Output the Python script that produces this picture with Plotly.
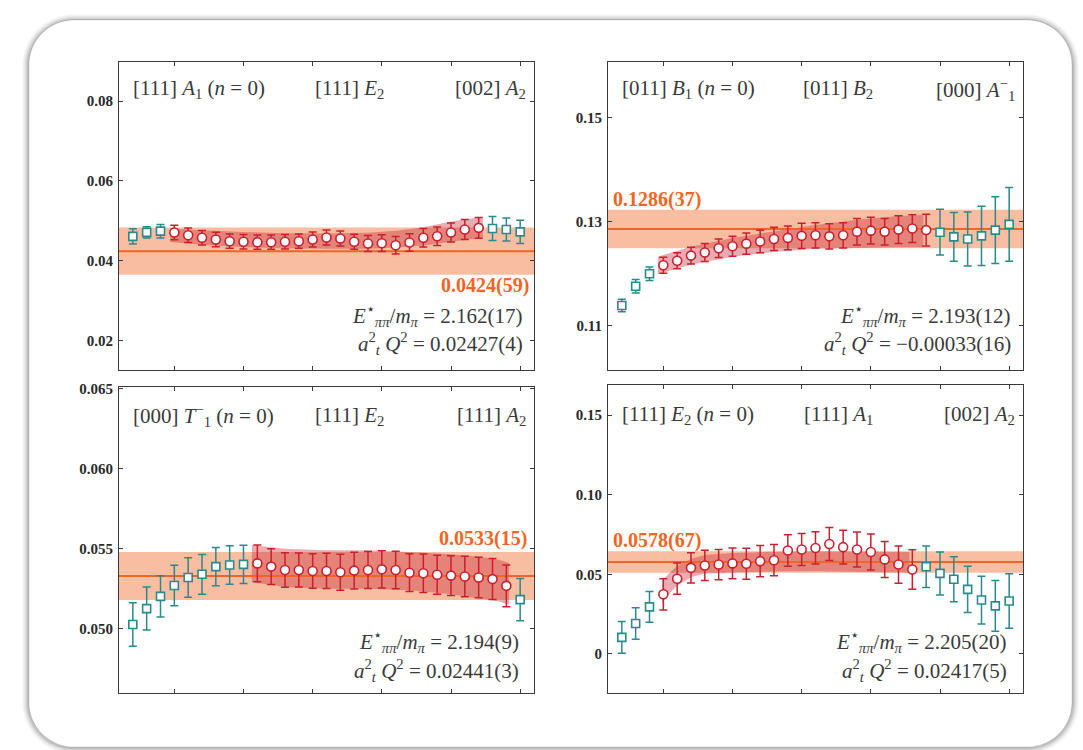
import plotly.graph_objects as go

W, H = 1083, 750

# time slices shared by all four panels
t_slices = list(range(2, 31))

# ---- panel A: [111] A1 (n=0) ----
pa_vals = [0.0461, 0.0471, 0.0474,
           0.04706, 0.04638, 0.04574, 0.04531, 0.04489, 0.04474, 0.04464, 0.04464,
           0.04474, 0.04489, 0.04531, 0.04581, 0.04556, 0.04474, 0.04431, 0.04439,
           0.04389, 0.04456, 0.04574, 0.04614, 0.04706, 0.04781, 0.04823,
           0.04806, 0.04781, 0.04723]
pa_errs = [0.0019, 0.0014, 0.0017,
           0.0018, 0.0018, 0.0018, 0.0018, 0.0018, 0.0018, 0.0018, 0.0018,
           0.0018, 0.0018, 0.0019, 0.0019, 0.0019, 0.0019, 0.0020, 0.0021,
           0.0022, 0.0022, 0.0023, 0.0023, 0.0024, 0.0025, 0.0026,
           0.0030, 0.0029, 0.0029]
pa_fit = (5, 27)
pa_band_t = [4.7, 7, 10, 13, 16, 19, 21, 23, 25, 27.3]
pa_band_mid = [0.0464, 0.0458, 0.0453, 0.0450, 0.0449, 0.0450, 0.0454, 0.0461, 0.0473, 0.0484]
pa_band_hw = [0.0017, 0.0018, 0.0019, 0.0019, 0.0019, 0.0020, 0.0021, 0.0023, 0.0025, 0.0026]
pa_const = (0.0424, 0.0059)
pa_yticks = [0.02, 0.04, 0.06, 0.08]
pa_yticklabels = ["0.02", "0.04", "0.06", "0.08"]
pa_labels = ["[111] <i>A</i><sub>1</sub> (<i>n</i> = 0)", "[111] <i>E</i><sub>2</sub>",
             "[002] <i>A</i><sub>2</sub>"]
pa_const_text = "0.0424(59)"
pa_energy = "2.162(17)"
pa_q2 = "0.02427(4)"

# ---- panel B: [011] B1 (n=0) ----
pb_vals = [0.1139, 0.1176, 0.1200,
           0.12165, 0.1225, 0.1235, 0.1241, 0.1249, 0.1253, 0.1258, 0.1262, 0.1267, 0.1269,
           0.1273, 0.1274, 0.1272, 0.1274, 0.1281, 0.1283, 0.1281, 0.1285, 0.1287, 0.1284,
           0.1280, 0.1271, 0.1267, 0.1273, 0.1284, 0.1295]
pb_errs = [0.0012, 0.0013, 0.0013,
           0.00153, 0.00153, 0.00159, 0.00172, 0.00178, 0.00191, 0.00204, 0.00216, 0.00223,
           0.00229, 0.00242, 0.00242, 0.00242, 0.00242, 0.00255, 0.00255, 0.00255, 0.00267,
           0.00267, 0.00306,
           0.0044, 0.0047, 0.0052, 0.0057, 0.0064, 0.0071]
pb_fit = (5, 24)
pb_band_t = [4.6, 7, 10, 13, 16, 19, 22, 23.8]
pb_band_mid = [0.1216, 0.1235, 0.1251, 0.1262, 0.1271, 0.1277, 0.1281, 0.1282]
pb_band_hw = [0.0017, 0.0017, 0.0018, 0.0020, 0.0023, 0.0027, 0.0030, 0.0031]
pb_const = (0.1286, 0.0037)
pb_yticks = [0.11, 0.13, 0.15]
pb_yticklabels = ["0.11", "0.13", "0.15"]
pb_labels = ["[011] <i>B</i><sub>1</sub> (<i>n</i> = 0)", "[011] <i>B</i><sub>2</sub>",
             "[000] <i>A</i><sup>−</sup><sub>1</sub>"]
pb_const_text = "0.1286(37)"
pb_energy = "2.193(12)"
pb_q2 = "−0.00033(16)"

# ---- panel C: [000] T1- (n=0) ----
pc_vals = [0.05027, 0.05126, 0.05202, 0.0527, 0.0532, 0.0534, 0.05388, 0.05398, 0.05402,
           0.05408, 0.05388, 0.05367, 0.05367, 0.05361, 0.05361, 0.05353, 0.05363, 0.05367,
           0.05371, 0.05367, 0.05350, 0.05347, 0.05337, 0.05332, 0.05326, 0.05320, 0.05310,
           0.05268,
           0.05182]
pc_errs = [0.00136, 0.00134, 0.00129, 0.00126, 0.00124, 0.00124, 0.00120, 0.00120, 0.00120,
           0.00115, 0.00112, 0.00108, 0.00106, 0.00108, 0.00110, 0.00112, 0.00114, 0.00115,
           0.00116, 0.00117, 0.00118, 0.00120, 0.00122, 0.00124, 0.00126, 0.00127, 0.00128,
           0.00130,
           0.00132]
pc_fit = (11, 29)
pc_band_t = [10.6, 13, 16, 19, 22, 25, 27, 28.5, 29.2]
pc_band_mid = [0.05407, 0.0538, 0.0537, 0.0537, 0.0536, 0.0534, 0.0532, 0.0530, 0.0528]
pc_band_hw = [0.00116, 0.0012, 0.0012, 0.0012, 0.0012, 0.00125, 0.0013, 0.0013, 0.0013]
pc_const = (0.0533, 0.0015)
pc_yticks = [0.050, 0.055, 0.060, 0.065]
pc_yticklabels = ["0.050", "0.055", "0.060", "0.065"]
pc_labels = ["[000] <i>T</i><sup>−</sup><sub>1</sub> (<i>n</i> = 0)", "[111] <i>E</i><sub>2</sub>",
             "[111] <i>A</i><sub>2</sub>"]
pc_const_text = "0.0533(15)"
pc_energy = "2.194(9)"
pc_q2 = "0.02441(3)"

# ---- panel D: [111] E2 (n=0) ----
pd_vals = [0.0104, 0.0191, 0.0296,
           0.0375, 0.0473, 0.0541, 0.0556, 0.0562, 0.0569, 0.0567, 0.0583, 0.0589, 0.0650,
           0.0656, 0.0666, 0.0691, 0.0671, 0.0656, 0.0641, 0.0594, 0.0562, 0.0531,
           0.0548, 0.0506, 0.0469, 0.0406, 0.0339, 0.0302, 0.0333]
pd_errs = [0.0100, 0.0099, 0.0096,
           0.0098, 0.0098, 0.0095, 0.0095, 0.0095, 0.0097, 0.0097, 0.0098, 0.0098, 0.0099,
           0.0100, 0.0101, 0.0104, 0.0106, 0.0110, 0.0113, 0.0113, 0.0117, 0.0124,
           0.0131, 0.0135, 0.0141, 0.0145, 0.0150, 0.0160, 0.0171]
pd_fit = (5, 23)
pd_band_t = [4.9, 5.5, 6, 7, 8, 10, 13, 16, 19, 22, 22.8]
pd_band_mid = [0.039, 0.045, 0.049, 0.054, 0.0563, 0.0573, 0.0580, 0.0583, 0.0580, 0.0577, 0.0576]
pd_band_hw = [0.0070, 0.0064, 0.0062, 0.0058, 0.0058, 0.0062, 0.0062, 0.0063, 0.0064, 0.0065, 0.0065]
pd_const = (0.0578, 0.0067)
pd_yticks = [0.0, 0.05, 0.10, 0.15]
pd_yticklabels = ["0", "0.05", "0.10", "0.15"]
pd_labels = ["[111] <i>E</i><sub>2</sub> (<i>n</i> = 0)", "[111] <i>A</i><sub>1</sub>",
             "[002] <i>A</i><sub>2</sub>"]
pd_const_text = "0.0578(67)"
pd_energy = "2.205(20)"
pd_q2 = "0.02417(5)"

# ---- styling ----
TEAL = "#2a8a8b"
RED = "#c8202f"
ORANGE = "#f26522"
ORANGE_BAND = "#f9bea1"
RED_BAND = "rgba(200,35,55,0.38)"
AXIS = "#3a3a3a"
TXT = "#3a3a3a"
SERIF = "Liberation Serif, Times New Roman, DejaVu Serif, serif"


def px(x):
    return x / W


def py(y):
    return 1 - y / H


def rounded_path(x0, y0, x1, y1, r):
    k = 0.5523 * r
    pts = [
        ("M", [(x0 + r, y0)]),
        ("L", [(x1 - r, y0)]),
        ("C", [(x1 - r + k, y0), (x1, y0 + r - k), (x1, y0 + r)]),
        ("L", [(x1, y1 - r)]),
        ("C", [(x1, y1 - r + k), (x1 - r + k, y1), (x1 - r, y1)]),
        ("L", [(x0 + r, y1)]),
        ("C", [(x0 + r - k, y1), (x0, y1 - r + k), (x0, y1 - r)]),
        ("L", [(x0, y0 + r)]),
        ("C", [(x0, y0 + r - k), (x0 + r - k, y0), (x0 + r, y0)]),
    ]
    out = []
    for cmd, coords in pts:
        out.append(cmd + " ".join(f"{px(a):.5f},{py(b):.5f}" for a, b in coords))
    return " ".join(out) + " Z"


# panel frames in pixels: (left, top, right, bottom)
frames = [(119, 56, 534, 367), (608, 56, 1023, 367), (119, 384, 534, 693), (608, 382, 1023, 693)]
yranges = [(0.0126, 0.0899), (0.1015, 0.1608), (0.04596, 0.0651), (-0.0248, 0.169)]
# (x, y, anchor) of the constant-fit label
const_pos = [(531, 282, "right"), (611, 195, "left"), (529, 537, "right"), (611, 539, "left")]
# right edge of the two bottom text lines and their vertical centres
info_pos = [(525, 312, 340), (1013, 312, 340), (521, 641, 670), (1009, 641, 670)]
label_y = [84, 84, 413, 412]

panels = [
    (pa_vals, pa_errs, pa_fit, pa_band_t, pa_band_mid, pa_band_hw, pa_const, pa_yticks,
     pa_yticklabels, pa_labels, pa_const_text, pa_energy, pa_q2),
    (pb_vals, pb_errs, pb_fit, pb_band_t, pb_band_mid, pb_band_hw, pb_const, pb_yticks,
     pb_yticklabels, pb_labels, pb_const_text, pb_energy, pb_q2),
    (pc_vals, pc_errs, pc_fit, pc_band_t, pc_band_mid, pc_band_hw, pc_const, pc_yticks,
     pc_yticklabels, pc_labels, pc_const_text, pc_energy, pc_q2),
    (pd_vals, pd_errs, pd_fit, pd_band_t, pd_band_mid, pd_band_hw, pd_const, pd_yticks,
     pd_yticklabels, pd_labels, pd_const_text, pd_energy, pd_q2),
]

fig = go.Figure()
shapes = []
annotations = []

# card with soft shadow
for i, a in enumerate([0.025, 0.03, 0.035, 0.045, 0.06, 0.08]):
    g = 6 - i
    shapes.append(dict(type="path", xref="paper", yref="paper", layer="below",
                       path=rounded_path(28 - g, 13 - g + 1, 1073 + g, 748 + g, 46 + g),
                       fillcolor=f"rgba(0,0,0,{a})", line=dict(width=0)))
shapes.append(dict(type="path", xref="paper", yref="paper", layer="below",
                   path=rounded_path(29, 14, 1072, 747, 45),
                   fillcolor="white", line=dict(color="rgba(0,0,0,0.12)", width=1)))

layout_axes = {}
lab_font = dict(family=SERIF, size=21, color=TXT)
for i, (vals, errs, fit, bt, bm, bh, const, yt, ytl, labels, ctext, energy, q2) in enumerate(panels):
    n = i + 1
    xa = "x" if n == 1 else f"x{n}"
    ya = "y" if n == 1 else f"y{n}"
    l, t, r, b = frames[i]

    axis_common = dict(showline=True, linecolor=AXIS, linewidth=1, mirror="ticks",
                       ticks="inside", ticklen=4, tickcolor=AXIS, showgrid=False,
                       zeroline=False)
    layout_axes["xaxis" if n == 1 else f"xaxis{n}"] = dict(
        axis_common, domain=[px(l), px(r)], range=[1, 31], anchor=ya,
        tickvals=[5, 10, 15, 20, 25, 30], showticklabels=False)
    layout_axes["yaxis" if n == 1 else f"yaxis{n}"] = dict(
        axis_common, domain=[py(b), py(t)], range=list(yranges[i]), anchor=xa,
        tickvals=yt, ticktext=ytl, ticklabelstandoff=2,
        tickfont=dict(family=SERIF, size=15, color="#2a2a2a", weight="bold"))

    c, e = const
    shapes.append(dict(type="rect", xref=f"{xa} domain", yref=ya, x0=0, x1=1,
                       y0=c - e, y1=c + e, fillcolor=ORANGE_BAND, line=dict(width=0),
                       layer="below"))

    # fitted function band
    upper = [m + h for m, h in zip(bm, bh)]
    lower = [m - h for m, h in zip(bm, bh)]
    fig.add_trace(go.Scatter(x=bt + bt[::-1], y=upper + lower[::-1], fill="toself",
                             fillcolor=RED_BAND, line=dict(width=0), mode="lines",
                             hoverinfo="skip", showlegend=False, xaxis=xa, yaxis=ya))

    # constant fit line
    fig.add_trace(go.Scatter(x=[1, 31], y=[c, c], mode="lines",
                             line=dict(color=ORANGE, width=2), showlegend=False,
                             hoverinfo="skip", xaxis=xa, yaxis=ya))

    lo, hi = fit
    in_t = [tt for tt in t_slices if lo <= tt <= hi]
    out_t = [tt for tt in t_slices if not (lo <= tt <= hi)]
    in_v = [v for tt, v in zip(t_slices, vals) if lo <= tt <= hi]
    in_e = [v for tt, v in zip(t_slices, errs) if lo <= tt <= hi]
    out_v = [v for tt, v in zip(t_slices, vals) if not (lo <= tt <= hi)]
    out_e = [v for tt, v in zip(t_slices, errs) if not (lo <= tt <= hi)]

    fig.add_trace(go.Scatter(
        x=out_t, y=out_v, mode="markers", showlegend=False, xaxis=xa, yaxis=ya,
        error_y=dict(type="data", array=out_e, color=TEAL, thickness=1.5, width=4),
        marker=dict(symbol="square", size=8, color="white", line=dict(color=TEAL, width=1.6))))
    fig.add_trace(go.Scatter(
        x=in_t, y=in_v, mode="markers", showlegend=False, xaxis=xa, yaxis=ya,
        error_y=dict(type="data", array=in_e, color=RED, thickness=1.5, width=4),
        marker=dict(symbol="circle", size=9, color="white", line=dict(color=RED, width=1.6))))

    # channel labels across the top
    annotations.append(dict(x=px(l + 12), y=py(label_y[i]), xref="paper", yref="paper",
                            text=labels[0], showarrow=False, xanchor="left",
                            yanchor="middle", font=lab_font))
    annotations.append(dict(x=px(l + 230), y=py(label_y[i]), xref="paper", yref="paper",
                            text=labels[1], showarrow=False, xanchor="center",
                            yanchor="middle", font=lab_font))
    annotations.append(dict(x=px(r - 6), y=py(label_y[i]), xref="paper", yref="paper",
                            text=labels[2], showarrow=False, xanchor="right",
                            yanchor="middle", font=lab_font))

    cx, cy, canchor = const_pos[i]
    annotations.append(dict(x=px(cx), y=py(cy), xref="paper", yref="paper",
                            text=f"<b>{ctext}</b>", showarrow=False, xanchor=canchor,
                            yanchor="middle",
                            font=dict(family=SERIF, size=20, color=ORANGE)))

    ix, iy1, iy2 = info_pos[i]
    annotations.append(dict(
        x=px(ix), y=py(iy1), xref="paper", yref="paper", showarrow=False,
        xanchor="right", yanchor="middle", font=lab_font,
        text=f"<i>E</i><sup>⋆</sup><sub><i>ππ</i></sub>/<i>m</i><sub><i>π</i></sub> = {energy}"))
    annotations.append(dict(
        x=px(ix), y=py(iy2), xref="paper", yref="paper", showarrow=False,
        xanchor="right", yanchor="middle", font=lab_font,
        text=f"<i>a</i><sup>2</sup><sub><i>t</i></sub> <i>Q</i><sup>2</sup> = {q2}"))

fig.update_layout(
    width=W, height=H, autosize=False,
    margin=dict(l=0, r=0, t=0, b=0),
    paper_bgcolor="white", plot_bgcolor="rgba(0,0,0,0)",
    showlegend=False, shapes=shapes, annotations=annotations,
    **layout_axes,
)

fig.write_html("out.html")
